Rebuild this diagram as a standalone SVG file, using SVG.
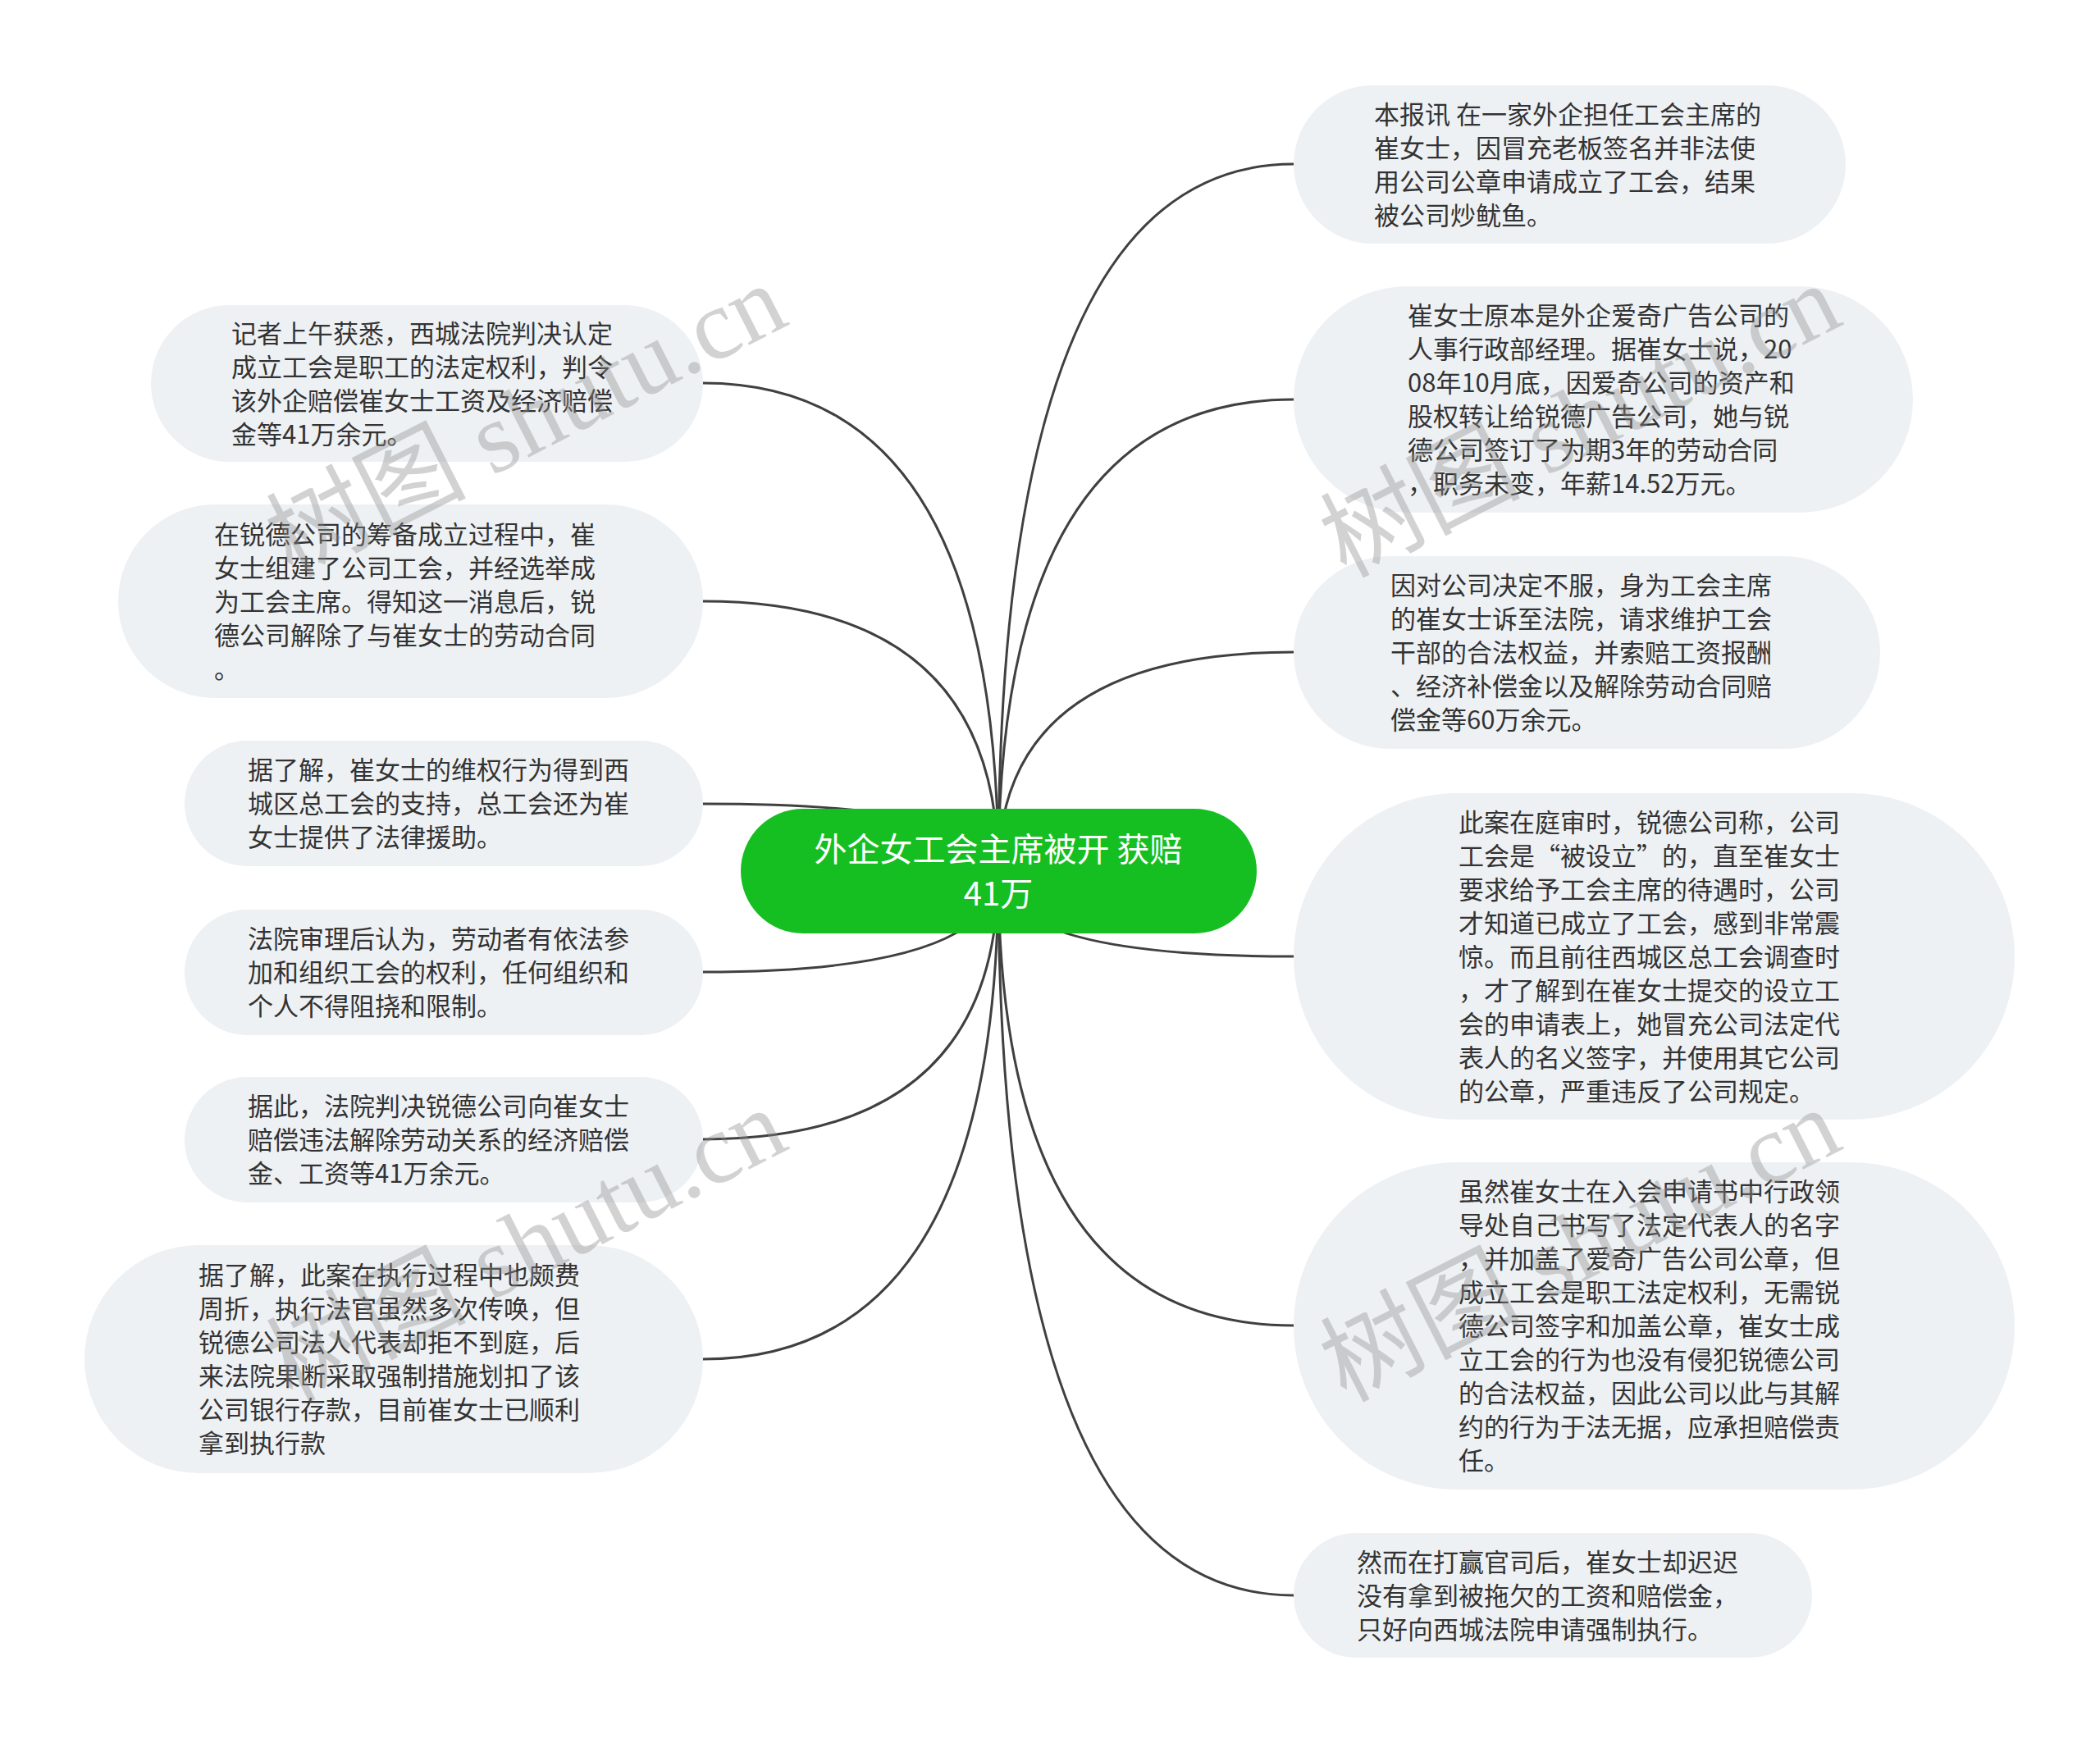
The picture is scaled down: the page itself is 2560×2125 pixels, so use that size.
<svg xmlns="http://www.w3.org/2000/svg" width="2560" height="2125" viewBox="0 0 2560 2125">
<style>
.node{fill:#eef1f4}
.t{font-family:"Noto Sans CJK SC","Noto Sans",sans-serif;font-size:31px;fill:#333333}
.root{fill:#15bf22}
.rt{font-family:"Noto Sans CJK SC","Noto Sans",sans-serif;font-size:40px;fill:#ffffff}
.edge{fill:none;stroke:#404040;stroke-width:3}
.wm{font-family:"Liberation Serif","Noto Sans CJK SC",serif;font-size:122px;fill:#8c8c8c;opacity:0.38}
</style>
<rect width="2560" height="2125" fill="#ffffff"/>
<g id="connectors">
<path class="edge" d="M1217 1062 Q1217 200 1577 200"/>
<path class="edge" d="M1217 1062 Q1217 487 1577 487"/>
<path class="edge" d="M1217 1062 Q1217 795 1577 795"/>
<path class="edge" d="M1217 1062 Q1217 1166 1577 1166"/>
<path class="edge" d="M1217 1062 Q1217 1616 1577 1616"/>
<path class="edge" d="M1217 1062 Q1217 1945 1577 1945"/>
<path class="edge" d="M1217 1062 Q1217 467 857 467"/>
<path class="edge" d="M1217 1062 Q1217 733 857 733"/>
<path class="edge" d="M1217 1062 Q1217 980 857 980"/>
<path class="edge" d="M1217 1062 Q1217 1185 857 1185"/>
<path class="edge" d="M1217 1062 Q1217 1389 857 1389"/>
<path class="edge" d="M1217 1062 Q1217 1657 857 1657"/>
</g>
<g id="root">
<rect class="root" x="903" y="986" width="629" height="152" rx="76"/>
<text class="rt" text-anchor="middle"><tspan x="1217" y="1050">外企女工会主席被开 获赔</tspan><tspan x="1217" y="1104">41万</tspan></text>
</g>
<g id="r1">
<rect class="node" x="1577" y="104" width="673" height="193" rx="96.5"/>
<text class="t"><tspan x="1675" y="151">本报讯 在一家外企担任工会主席的</tspan><tspan x="1675" y="192">崔女士，因冒充老板签名并非法使</tspan><tspan x="1675" y="233">用公司公章申请成立了工会，结果</tspan><tspan x="1675" y="274">被公司炒鱿鱼。</tspan></text>
</g>
<g id="r2">
<rect class="node" x="1577" y="349" width="755" height="276" rx="138"/>
<text class="t"><tspan x="1716" y="396">崔女士原本是外企爱奇广告公司的</tspan><tspan x="1716" y="437">人事行政部经理。据崔女士说，20</tspan><tspan x="1716" y="478">08年10月底，因爱奇公司的资产和</tspan><tspan x="1716" y="519">股权转让给锐德广告公司，她与锐</tspan><tspan x="1716" y="560">德公司签订了为期3年的劳动合同</tspan><tspan x="1716" y="601">，职务未变，年薪14.52万元。</tspan></text>
</g>
<g id="r3">
<rect class="node" x="1577" y="678" width="715" height="235" rx="117.5"/>
<text class="t"><tspan x="1695" y="725">因对公司决定不服，身为工会主席</tspan><tspan x="1695" y="766">的崔女士诉至法院，请求维护工会</tspan><tspan x="1695" y="807">干部的合法权益，并索赔工资报酬</tspan><tspan x="1695" y="848">、经济补偿金以及解除劳动合同赔</tspan><tspan x="1695" y="889">偿金等60万余元。</tspan></text>
</g>
<g id="r4">
<rect class="node" x="1577" y="967" width="879" height="398" rx="199"/>
<text class="t"><tspan x="1778" y="1014">此案在庭审时，锐德公司称，公司</tspan><tspan x="1778" y="1055">工会是“被设立”的，直至崔女士</tspan><tspan x="1778" y="1096">要求给予工会主席的待遇时，公司</tspan><tspan x="1778" y="1137">才知道已成立了工会，感到非常震</tspan><tspan x="1778" y="1178">惊。而且前往西城区总工会调查时</tspan><tspan x="1778" y="1219">，才了解到在崔女士提交的设立工</tspan><tspan x="1778" y="1260">会的申请表上，她冒充公司法定代</tspan><tspan x="1778" y="1301">表人的名义签字，并使用其它公司</tspan><tspan x="1778" y="1342">的公章，严重违反了公司规定。</tspan></text>
</g>
<g id="r5">
<rect class="node" x="1577" y="1417" width="879" height="399" rx="199.5"/>
<text class="t"><tspan x="1778" y="1464">虽然崔女士在入会申请书中行政领</tspan><tspan x="1778" y="1505">导处自己书写了法定代表人的名字</tspan><tspan x="1778" y="1546">，并加盖了爱奇广告公司公章，但</tspan><tspan x="1778" y="1587">成立工会是职工法定权利，无需锐</tspan><tspan x="1778" y="1628">德公司签字和加盖公章，崔女士成</tspan><tspan x="1778" y="1669">立工会的行为也没有侵犯锐德公司</tspan><tspan x="1778" y="1710">的合法权益，因此公司以此与其解</tspan><tspan x="1778" y="1751">约的行为于法无据，应承担赔偿责</tspan><tspan x="1778" y="1792">任。</tspan></text>
</g>
<g id="r6">
<rect class="node" x="1577" y="1869" width="632" height="152" rx="76"/>
<text class="t"><tspan x="1654" y="1916">然而在打赢官司后，崔女士却迟迟</tspan><tspan x="1654" y="1957">没有拿到被拖欠的工资和赔偿金，</tspan><tspan x="1654" y="1998">只好向西城法院申请强制执行。</tspan></text>
</g>
<g id="l1">
<rect class="node" x="184" y="372" width="673" height="191" rx="95.5"/>
<text class="t"><tspan x="282" y="418">记者上午获悉，西城法院判决认定</tspan><tspan x="282" y="459">成立工会是职工的法定权利，判令</tspan><tspan x="282" y="500">该外企赔偿崔女士工资及经济赔偿</tspan><tspan x="282" y="541">金等41万余元。</tspan></text>
</g>
<g id="l2">
<rect class="node" x="144" y="615" width="713" height="236" rx="118"/>
<text class="t"><tspan x="261" y="663">在锐德公司的筹备成立过程中，崔</tspan><tspan x="261" y="704">女士组建了公司工会，并经选举成</tspan><tspan x="261" y="745">为工会主席。得知这一消息后，锐</tspan><tspan x="261" y="786">德公司解除了与崔女士的劳动合同</tspan><tspan x="261" y="827">。</tspan></text>
</g>
<g id="l3">
<rect class="node" x="225" y="903" width="632" height="153" rx="76.5"/>
<text class="t"><tspan x="302" y="950">据了解，崔女士的维权行为得到西</tspan><tspan x="302" y="991">城区总工会的支持，总工会还为崔</tspan><tspan x="302" y="1032">女士提供了法律援助。</tspan></text>
</g>
<g id="l4">
<rect class="node" x="225" y="1109" width="632" height="153" rx="76.5"/>
<text class="t"><tspan x="302" y="1156">法院审理后认为，劳动者有依法参</tspan><tspan x="302" y="1197">加和组织工会的权利，任何组织和</tspan><tspan x="302" y="1238">个人不得阻挠和限制。</tspan></text>
</g>
<g id="l5">
<rect class="node" x="225" y="1313" width="632" height="153" rx="76.5"/>
<text class="t"><tspan x="302" y="1360">据此，法院判决锐德公司向崔女士</tspan><tspan x="302" y="1401">赔偿违法解除劳动关系的经济赔偿</tspan><tspan x="302" y="1442">金、工资等41万余元。</tspan></text>
</g>
<g id="l6">
<rect class="node" x="103" y="1518" width="754" height="278" rx="139"/>
<text class="t"><tspan x="242" y="1566">据了解，此案在执行过程中也颇费</tspan><tspan x="242" y="1607">周折，执行法官虽然多次传唤，但</tspan><tspan x="242" y="1648">锐德公司法人代表却拒不到庭，后</tspan><tspan x="242" y="1689">来法院果断采取强制措施划扣了该</tspan><tspan x="242" y="1730">公司银行存款，目前崔女士已顺利</tspan><tspan x="242" y="1771">拿到执行款</tspan></text>
</g>
<g id="watermarks">
<text class="wm" transform="translate(355 705) rotate(-27)">树图 shutu.cn</text>
<text class="wm" transform="translate(1640 705) rotate(-27)">树图 shutu.cn</text>
<text class="wm" transform="translate(355 1710) rotate(-27)">树图 shutu.cn</text>
<text class="wm" transform="translate(1640 1710) rotate(-27)">树图 shutu.cn</text>
</g>
</svg>
